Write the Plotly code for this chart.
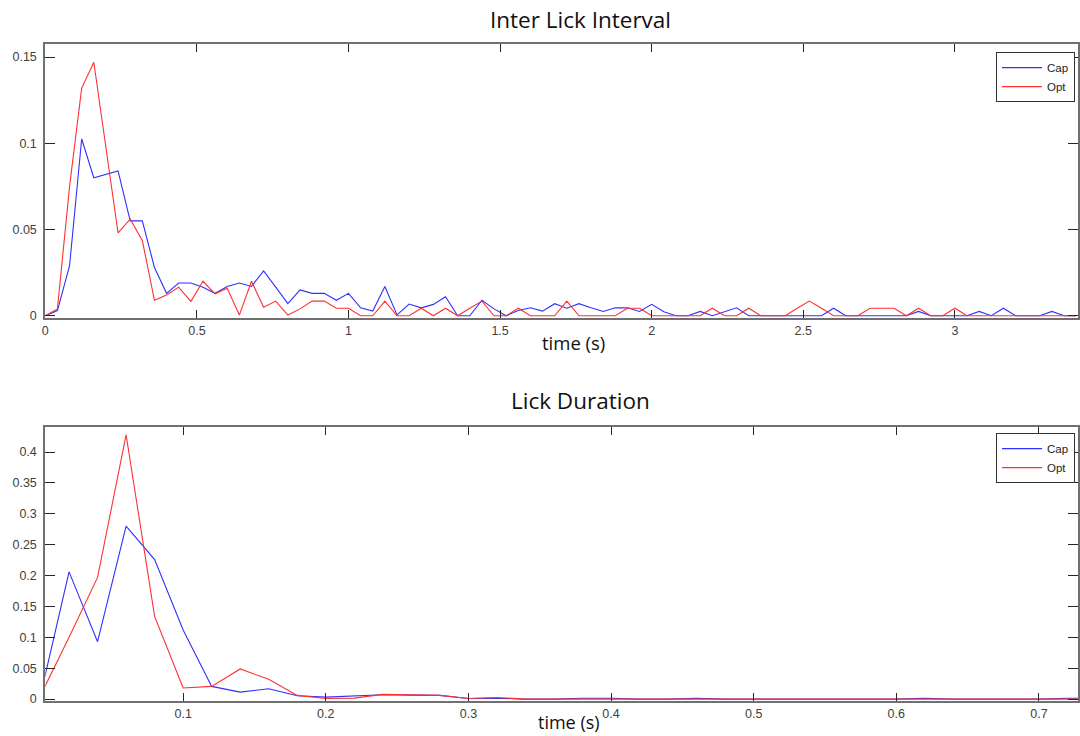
import plotly.graph_objects as go

# ---- Inter lick interval distribution (0.04 s bins) ----
ili_time = [
    0.00, 0.04, 0.08, 0.12, 0.16, 0.20, 0.24, 0.28, 0.32, 0.36,
    0.40, 0.44, 0.48, 0.52, 0.56, 0.60, 0.64, 0.68, 0.72, 0.76,
    0.80, 0.84, 0.88, 0.92, 0.96, 1.00, 1.04, 1.08, 1.12, 1.16,
    1.20, 1.24, 1.28, 1.32, 1.36, 1.40, 1.44, 1.48, 1.52, 1.56,
    1.60, 1.64, 1.68, 1.72, 1.76, 1.80, 1.84, 1.88, 1.92, 1.96,
    2.00, 2.04, 2.08, 2.12, 2.16, 2.20, 2.24, 2.28, 2.32, 2.36,
    2.40, 2.44, 2.48, 2.52, 2.56, 2.60, 2.64, 2.68, 2.72, 2.76,
    2.80, 2.84, 2.88, 2.92, 2.96, 3.00, 3.04, 3.08, 3.12, 3.16,
    3.20, 3.24, 3.28, 3.32, 3.36, 3.40,
]
ili_cap = [
    0, 0.003, 0.029, 0.1025, 0.080, 0.082, 0.084, 0.055, 0.055, 0.028,
    0.013, 0.019, 0.019, 0.0166, 0.013, 0.017, 0.019, 0.017, 0.026, 0.0166,
    0.007, 0.015, 0.013, 0.013, 0.009, 0.013, 0.0046, 0.0027, 0.017, 0.0005,
    0.0068, 0.0046, 0.0066, 0.011, 0, 0, 0.009, 0.004, 0, 0.003,
    0.0046, 0.0027, 0.007, 0.0044, 0.007, 0.0046, 0.0025, 0.0046, 0.0046, 0.0025,
    0.0066, 0.0023, 0, 0, 0.0025, 0, 0.0025, 0.0046, 0, 0,
    0, 0, 0, 0, 0, 0.0044, 0, 0, 0, 0,
    0, 0, 0.0025, 0, 0, 0, 0, 0.0025, 0, 0.0044,
    0, 0, 0, 0.0025, 0, 0,
]
ili_opt = [
    0, 0.004, 0.075, 0.132, 0.147, 0.098, 0.048, 0.056, 0.0436, 0.009,
    0.012, 0.0166, 0.0083, 0.020, 0.0127, 0.016, 0.0004, 0.020, 0.005, 0.0085,
    0.0004, 0.004, 0.0085, 0.0085, 0.0044, 0.0044, 0, 0, 0.0085, 0,
    0, 0.0044, 0, 0.0044, 0, 0.0044, 0.0085, 0, 0, 0.0044,
    0, 0, 0, 0.0085, 0, 0, 0, 0, 0.0044, 0.0044,
    0, 0, 0, 0, 0, 0.0044, 0, 0, 0.0044, 0,
    0, 0, 0.0044, 0.0085, 0.0044, 0, 0, 0, 0.0044, 0.0044,
    0.0044, 0, 0.0044, 0, 0, 0.0044, 0, 0, 0, 0,
    0, 0, 0, 0, 0, 0,
]

# ---- Lick duration distribution (0.02 s bins) ----
dur_time = [
    0.003, 0.02, 0.04, 0.06, 0.08, 0.10, 0.12, 0.14, 0.16, 0.18,
    0.20, 0.22, 0.24, 0.26, 0.28, 0.30, 0.32, 0.34, 0.36, 0.38,
    0.40, 0.42, 0.44, 0.46, 0.48, 0.50, 0.52, 0.54, 0.56, 0.58,
    0.60, 0.62, 0.64, 0.66, 0.68, 0.70, 0.72, 0.74,
]
dur_cap = [
    0.036, 0.206, 0.093, 0.280, 0.226, 0.112, 0.0206, 0.0114, 0.0168, 0.0054,
    0.0033, 0.0054, 0.007, 0.0065, 0.006, 0.001, 0.0015, 0, 0, 0.0015,
    0.0015, 0, 0, 0.0015, 0, 0, 0, 0, 0, 0,
    0, 0.0015, 0, 0, 0, 0, 0.0015, 0.0015,
]
dur_opt = [
    0.02, 0.10, 0.197, 0.428, 0.134, 0.018, 0.0206, 0.0488, 0.032, 0.006,
    0.001, 0.0016, 0.0076, 0.0065, 0.006, 0.001, 0.0025, 0, 0, 0,
    0, 0, 0, 0, 0, 0, 0, 0, 0, 0,
    0, 0, 0, 0, 0, 0, 0, 0,
]

W, H = 1080, 736
V_UNIT = 744 / 736  # vertical layout unit in figure pixels
CAP_COLOR = "#3030ff"
OPT_COLOR = "#ff3030"
TICK_FONT = dict(family="Liberation Sans, Arial, sans-serif", size=12.5, color="#404040")
LABEL_FONT = "'Open Sans', Lato, sans-serif"


def px_x(p):
    return p / W


def px_y(p):
    return (H - p * V_UNIT) / H


fig = go.Figure()

fig.add_trace(go.Scatter(x=ili_time, y=ili_cap, mode="lines", name="Cap",
                         line=dict(color=CAP_COLOR, width=1.1), xaxis="x", yaxis="y",
                         legend="legend"))
fig.add_trace(go.Scatter(x=ili_time, y=ili_opt, mode="lines", name="Opt",
                         line=dict(color=OPT_COLOR, width=1.1), xaxis="x", yaxis="y",
                         legend="legend"))
fig.add_trace(go.Scatter(x=dur_time, y=dur_cap, mode="lines", name="Cap",
                         line=dict(color=CAP_COLOR, width=1.1), xaxis="x2", yaxis="y2",
                         legend="legend2"))
fig.add_trace(go.Scatter(x=dur_time, y=dur_opt, mode="lines", name="Opt",
                         line=dict(color=OPT_COLOR, width=1.1), xaxis="x2", yaxis="y2",
                         legend="legend2"))

axis_common = dict(
    showgrid=False, zeroline=False, showline=True, linecolor="#707070", linewidth=2,
    mirror="allticks", ticks="inside", tickcolor="#262626", tickwidth=1,
    tickfont=TICK_FONT,
)

left = px_x(42.5)
top_dom = [px_y(317), px_y(44)]
bot_dom = [px_y(698.7), px_y(425.5)]

legend_common = dict(
    xanchor="right", yanchor="top", bgcolor="white", bordercolor="#333333",
    borderwidth=1, font=dict(family="Liberation Sans, Arial, sans-serif", size=11.5, color="#222"),
    tracegroupgap=0, itemwidth=40,
)

fig.update_layout(
    width=W, height=H, autosize=False,
    margin=dict(l=0, r=0, t=0, b=0),
    paper_bgcolor="white", plot_bgcolor="white",
    xaxis=dict(domain=[left, 1], anchor="y", range=[0, 3.406],
               tick0=0, dtick=0.5, ticklen=8, **axis_common),
    yaxis=dict(domain=top_dom, anchor="x", range=[-0.0012, 0.1575],
               tick0=0, dtick=0.05, ticklen=10, ticklabelstandoff=4, **axis_common),
    xaxis2=dict(domain=[left, 1], anchor="y2", range=[0.00335, 0.7274],
                tick0=0, dtick=0.1, ticklen=8, **axis_common),
    yaxis2=dict(domain=bot_dom, anchor="x2", range=[-0.0023, 0.4412],
                tick0=0, dtick=0.05, ticklen=10, ticklabelstandoff=4, **axis_common),
    legend=dict(x=px_x(1077), y=px_y(52), **legend_common),
    legend2=dict(x=px_x(1077), y=px_y(432), **legend_common),
    showlegend=True,
)

annotations = [
    ("Inter Lick Interval", 580, 19, 22.5),
    ("time (s)", 573, 342, 18.5),
    ("Lick Duration", 580, 399, 22.5),
    ("time (s)", 569, 720, 18),
]
for text, x, y, size in annotations:
    fig.add_annotation(text=text, x=px_x(x), y=px_y(y), xref="paper", yref="paper",
                       xanchor="center", yanchor="middle", showarrow=False,
                       font=dict(family=LABEL_FONT, size=size, color="#111111"))

fig.write_html("out.html", config={"displayModeBar": False})
